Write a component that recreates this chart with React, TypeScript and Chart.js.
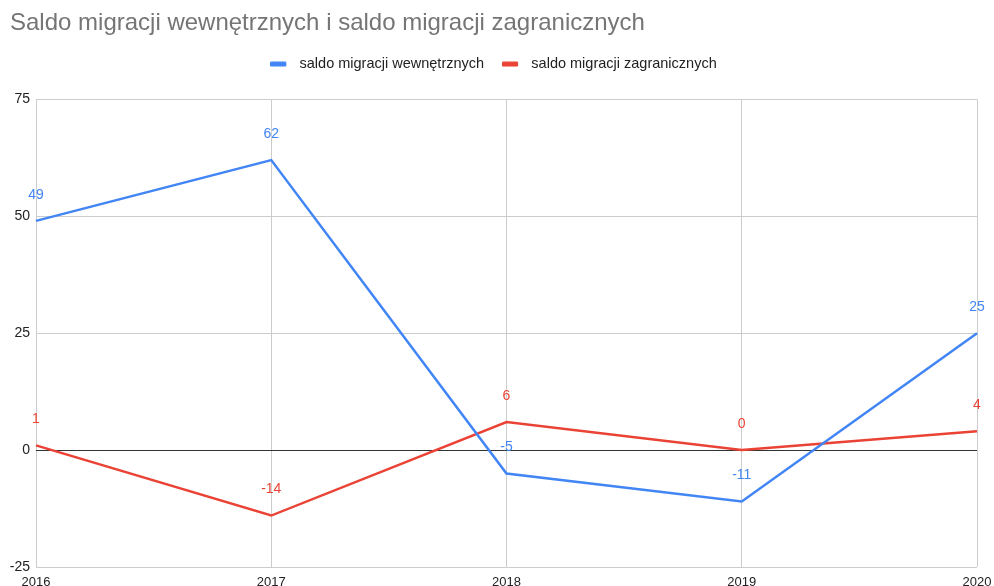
import React, { useEffect, useRef } from "react";
import { Chart, registerables } from "chart.js";

Chart.register(...registerables);

const TITLE = "Saldo migracji wewnętrznych i saldo migracji zagranicznych";
const YEARS = ["2016", "2017", "2018", "2019", "2020"];
const SERIES_NAMES = ["saldo migracji wewnętrznych", "saldo migracji zagranicznych"];
const WEWNETRZNE = [49, 62, -5, -11, 25];
const ZAGRANICZNE = [1, -14, 6, 0, 4];
const Y_TICKS = [-25, 0, 25, 50, 75];

const FONT = "'Liberation Sans', Arial, sans-serif";
const BLUE = "#4285F4";
const RED = "#EA4335";

function legendMarker(color: string) {
  const c = document.createElement("canvas");
  c.width = 22;
  c.height = 6;
  const ctx = c.getContext("2d")!;
  ctx.fillStyle = color;
  ctx.beginPath();
  (ctx as any).roundRect ? (ctx as any).roundRect(0, 0.5, 16, 5, 1) : ctx.rect(0, 0.5, 16, 5);
  ctx.fill();
  return c;
}

const dataLabels = {
  id: "dataLabels",
  afterDatasetsDraw(chart: any) {
    const ctx = chart.ctx;
    ctx.save();
    ctx.font = `14px ${FONT}`;
    ctx.textAlign = "center";
    ctx.textBaseline = "middle";
    chart.data.datasets.forEach((ds: any, i: number) => {
      const meta = chart.getDatasetMeta(i);
      meta.data.forEach((pt: any, j: number) => {
        ctx.fillStyle = ds.borderColor;
        ctx.fillText(String(ds.data[j]), pt.x, pt.y - 26);
      });
    });
    ctx.restore();
  },
};

export default function App() {
  const ref = useRef<HTMLCanvasElement>(null);
  useEffect(() => {
    document.body.style.margin = "0";
    const markers = [legendMarker(BLUE), legendMarker(RED)];
    const chart = new Chart(ref.current!, {
      type: "line",
      data: {
        labels: YEARS,
        datasets: [
          {
            label: SERIES_NAMES[0],
            data: WEWNETRZNE,
            borderColor: BLUE,
            backgroundColor: BLUE,
            borderWidth: 2.5,
            pointRadius: 0,
            tension: 0,
            xAxisID: "x",
          },
          {
            label: SERIES_NAMES[1],
            data: ZAGRANICZNE,
            borderColor: RED,
            backgroundColor: RED,
            borderWidth: 2.5,
            pointRadius: 0,
            tension: 0,
            xAxisID: "x",
          },
        ],
      },
      options: {
        animation: false,
        responsive: false,
        maintainAspectRatio: false,
        layout: { padding: { left: 10, right: 17, top: 0, bottom: 0 } },
        plugins: {
          tooltip: { enabled: false },
          title: {
            display: true,
            text: TITLE,
            align: "start",
            color: "#757575",
            font: { family: FONT, size: 24, weight: "normal" },
            padding: { top: 9, bottom: 1 },
          },
          legend: {
            display: true,
            position: "top",
            labels: {
              color: "#222",
              font: { family: FONT, size: 14.5 },
              usePointStyle: true,
              pointStyleWidth: 22,
              boxHeight: 14.5,
              padding: 18,
              generateLabels: (chart: any) =>
                Chart.defaults.plugins.legend.labels
                  .generateLabels(chart)
                  .map((l: any, i: number) => ({ ...l, lineWidth: 0, pointStyle: markers[i] })),
            },
          },
        },
        scales: {
          x: {
            offset: false,
            grid: {
              color: "#cccccc",
              drawTicks: true,
              tickLength: 7,
              tickColor: "rgba(0,0,0,0)",
            },
            border: { display: false },
            ticks: {
              color: "#222",
              font: { family: FONT, size: 13 },
              padding: 1,
              maxRotation: 0,
              autoSkip: false,
            },
            afterFit: (s: any) => {
              s.height = 19;
            },
          },
          xTop: {
            type: "category",
            position: "top",
            labels: YEARS,
            grid: { display: false, drawTicks: false },
            border: { display: false },
            ticks: { display: false },
            afterFit: (s: any) => {
              s.height = 18;
            },
          },
          y: {
            min: -25,
            max: 75,
            afterBuildTicks: (s: any) => {
              s.ticks = Y_TICKS.map((v) => ({ value: v }));
            },
            grid: {
              color: (c: any) => (c.tick && c.tick.value === 0 ? "#333333" : "#cccccc"),
              drawTicks: false,
            },
            border: { display: false },
            ticks: {
              color: "#222",
              font: { family: FONT, size: 14 },
              padding: 6,
            },
            afterFit: (s: any) => {
              s.width = 26;
            },
          },
        },
      },
      plugins: [dataLabels],
    });
    return () => chart.destroy();
  }, []);
  return (
    <div style={{ position: "absolute", left: 0, top: 0, width: 994, height: 586, background: "#fff" }}>
      <canvas ref={ref} width={994} height={586} style={{ width: 994, height: 586 }} />
    </div>
  );
}
